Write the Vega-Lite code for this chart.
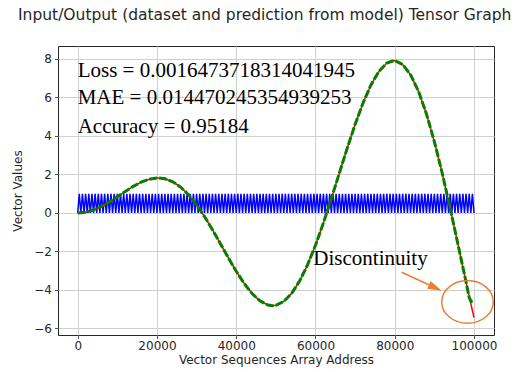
{
  "$schema": "https://vega.github.io/schema/vega-lite/v6.json",
  "width": 436,
  "height": 289,
  "autosize": {"type": "none"},
  "padding": {"left": 58, "top": 46, "right": 23, "bottom": 37},
  "background": "white",
  "title": {"text": "Input/Output (dataset and prediction from model) Tensor Graph", "anchor": "start", "frame": "group", "dx": -40, "offset": 11, "baseline": "alphabetic", "font": "DejaVu Sans", "fontSize": 15.5, "fontWeight": "normal", "color": "#262626"},
  "config": {
    "view": {"stroke": "#262626", "strokeWidth": 1},
    "axis": {"labelFont": "DejaVu Sans", "labelFontSize": 12, "labelColor": "#262626", "titleFont": "DejaVu Sans", "titleFontSize": 12, "titleFontWeight": "normal", "titleColor": "#262626", "tickColor": "#262626", "tickSize": 3.5, "tickWidth": 0.8, "domain": false, "grid": true, "gridColor": "#cfcfcf", "gridWidth": 1, "labelFlush": false, "labelOverlap": false},
    "axisX": {"labelPadding": 2, "titlePadding": 3},
    "axisY": {"labelPadding": 3, "titlePadding": 9}
  },
  "datasets": {
    "input": [
      {"x":0,"y":0},{"x":400,"y":1},{"x":800,"y":0},{"x":1200,"y":1},{"x":1600,"y":0},{"x":2000,"y":1},{"x":2400,"y":0},{"x":2800,"y":1},{"x":3200,"y":0},{"x":3600,"y":1},{"x":4000,"y":0},{"x":4400,"y":1},{"x":4800,"y":0},{"x":5200,"y":1},{"x":5600,"y":0},{"x":6000,"y":1},{"x":6400,"y":0},{"x":6800,"y":1},{"x":7200,"y":0},{"x":7600,"y":1},
      {"x":8000,"y":0},{"x":8400,"y":1},{"x":8800,"y":0},{"x":9200,"y":1},{"x":9600,"y":0},{"x":10000,"y":1},{"x":10400,"y":0},{"x":10800,"y":1},{"x":11200,"y":0},{"x":11600,"y":1},{"x":12000,"y":0},{"x":12400,"y":1},{"x":12800,"y":0},{"x":13200,"y":1},{"x":13600,"y":0},{"x":14000,"y":1},{"x":14400,"y":0},{"x":14800,"y":1},{"x":15200,"y":0},{"x":15600,"y":1},
      {"x":16000,"y":0},{"x":16400,"y":1},{"x":16800,"y":0},{"x":17200,"y":1},{"x":17600,"y":0},{"x":18000,"y":1},{"x":18400,"y":0},{"x":18800,"y":1},{"x":19200,"y":0},{"x":19600,"y":1},{"x":20000,"y":0},{"x":20400,"y":1},{"x":20800,"y":0},{"x":21200,"y":1},{"x":21600,"y":0},{"x":22000,"y":1},{"x":22400,"y":0},{"x":22800,"y":1},{"x":23200,"y":0},{"x":23600,"y":1},
      {"x":24000,"y":0},{"x":24400,"y":1},{"x":24800,"y":0},{"x":25200,"y":1},{"x":25600,"y":0},{"x":26000,"y":1},{"x":26400,"y":0},{"x":26800,"y":1},{"x":27200,"y":0},{"x":27600,"y":1},{"x":28000,"y":0},{"x":28400,"y":1},{"x":28800,"y":0},{"x":29200,"y":1},{"x":29600,"y":0},{"x":30000,"y":1},{"x":30400,"y":0},{"x":30800,"y":1},{"x":31200,"y":0},{"x":31600,"y":1},
      {"x":32000,"y":0},{"x":32400,"y":1},{"x":32800,"y":0},{"x":33200,"y":1},{"x":33600,"y":0},{"x":34000,"y":1},{"x":34400,"y":0},{"x":34800,"y":1},{"x":35200,"y":0},{"x":35600,"y":1},{"x":36000,"y":0},{"x":36400,"y":1},{"x":36800,"y":0},{"x":37200,"y":1},{"x":37600,"y":0},{"x":38000,"y":1},{"x":38400,"y":0},{"x":38800,"y":1},{"x":39200,"y":0},{"x":39600,"y":1},
      {"x":40000,"y":0},{"x":40400,"y":1},{"x":40800,"y":0},{"x":41200,"y":1},{"x":41600,"y":0},{"x":42000,"y":1},{"x":42400,"y":0},{"x":42800,"y":1},{"x":43200,"y":0},{"x":43600,"y":1},{"x":44000,"y":0},{"x":44400,"y":1},{"x":44800,"y":0},{"x":45200,"y":1},{"x":45600,"y":0},{"x":46000,"y":1},{"x":46400,"y":0},{"x":46800,"y":1},{"x":47200,"y":0},{"x":47600,"y":1},
      {"x":48000,"y":0},{"x":48400,"y":1},{"x":48800,"y":0},{"x":49200,"y":1},{"x":49600,"y":0},{"x":50000,"y":1},{"x":50400,"y":0},{"x":50800,"y":1},{"x":51200,"y":0},{"x":51600,"y":1},{"x":52000,"y":0},{"x":52400,"y":1},{"x":52800,"y":0},{"x":53200,"y":1},{"x":53600,"y":0},{"x":54000,"y":1},{"x":54400,"y":0},{"x":54800,"y":1},{"x":55200,"y":0},{"x":55600,"y":1},
      {"x":56000,"y":0},{"x":56400,"y":1},{"x":56800,"y":0},{"x":57200,"y":1},{"x":57600,"y":0},{"x":58000,"y":1},{"x":58400,"y":0},{"x":58800,"y":1},{"x":59200,"y":0},{"x":59600,"y":1},{"x":60000,"y":0},{"x":60400,"y":1},{"x":60800,"y":0},{"x":61200,"y":1},{"x":61600,"y":0},{"x":62000,"y":1},{"x":62400,"y":0},{"x":62800,"y":1},{"x":63200,"y":0},{"x":63600,"y":1},
      {"x":64000,"y":0},{"x":64400,"y":1},{"x":64800,"y":0},{"x":65200,"y":1},{"x":65600,"y":0},{"x":66000,"y":1},{"x":66400,"y":0},{"x":66800,"y":1},{"x":67200,"y":0},{"x":67600,"y":1},{"x":68000,"y":0},{"x":68400,"y":1},{"x":68800,"y":0},{"x":69200,"y":1},{"x":69600,"y":0},{"x":70000,"y":1},{"x":70400,"y":0},{"x":70800,"y":1},{"x":71200,"y":0},{"x":71600,"y":1},
      {"x":72000,"y":0},{"x":72400,"y":1},{"x":72800,"y":0},{"x":73200,"y":1},{"x":73600,"y":0},{"x":74000,"y":1},{"x":74400,"y":0},{"x":74800,"y":1},{"x":75200,"y":0},{"x":75600,"y":1},{"x":76000,"y":0},{"x":76400,"y":1},{"x":76800,"y":0},{"x":77200,"y":1},{"x":77600,"y":0},{"x":78000,"y":1},{"x":78400,"y":0},{"x":78800,"y":1},{"x":79200,"y":0},{"x":79600,"y":1},
      {"x":80000,"y":0},{"x":80400,"y":1},{"x":80800,"y":0},{"x":81200,"y":1},{"x":81600,"y":0},{"x":82000,"y":1},{"x":82400,"y":0},{"x":82800,"y":1},{"x":83200,"y":0},{"x":83600,"y":1},{"x":84000,"y":0},{"x":84400,"y":1},{"x":84800,"y":0},{"x":85200,"y":1},{"x":85600,"y":0},{"x":86000,"y":1},{"x":86400,"y":0},{"x":86800,"y":1},{"x":87200,"y":0},{"x":87600,"y":1},
      {"x":88000,"y":0},{"x":88400,"y":1},{"x":88800,"y":0},{"x":89200,"y":1},{"x":89600,"y":0},{"x":90000,"y":1},{"x":90400,"y":0},{"x":90800,"y":1},{"x":91200,"y":0},{"x":91600,"y":1},{"x":92000,"y":0},{"x":92400,"y":1},{"x":92800,"y":0},{"x":93200,"y":1},{"x":93600,"y":0},{"x":94000,"y":1},{"x":94400,"y":0},{"x":94800,"y":1},{"x":95200,"y":0},{"x":95600,"y":1},
      {"x":96000,"y":0},{"x":96400,"y":1},{"x":96800,"y":0},{"x":97200,"y":1},{"x":97600,"y":0},{"x":98000,"y":1},{"x":98400,"y":0},{"x":98800,"y":1},{"x":99200,"y":0},{"x":99600,"y":1},{"x":100000,"y":0}
    ],
    "dataset": [
      {"x":0,"y":0},{"x":2000,"y":0.0397},{"x":4000,"y":0.1558},{"x":6000,"y":0.3388},{"x":8000,"y":0.5739},{"x":10000,"y":0.8415},{"x":12000,"y":1.1184},{"x":14000,"y":1.3796},{"x":16000,"y":1.5993},{"x":18000,"y":1.7529},{"x":20000,"y":1.8186},{"x":20290,"y":1.8197},{"x":22000,"y":1.7787},{"x":24000,"y":1.6211},{"x":26000,"y":1.3403},{"x":28000,"y":0.938},{"x":30000,"y":0.4234},{"x":32000,"y":-0.1868},{"x":34000,"y":-0.8688},{"x":36000,"y":-1.5931},{"x":38000,"y":-2.3251},{"x":40000,"y":-3.0272},{"x":42000,"y":-3.6606},{"x":44000,"y":-4.187},{"x":46000,"y":-4.571},{"x":48000,"y":-4.7816},{"x":49130,"y":-4.8145},{"x":50000,"y":-4.7946},{"x":52000,"y":-4.5939},{"x":54000,"y":-4.1729},{"x":56000,"y":-3.5351},{"x":58000,"y":-2.6947},{"x":60000,"y":-1.6765},{"x":62000,"y":-0.5152},{"x":64000,"y":0.7459},{"x":66000,"y":2.0562},{"x":68000,"y":3.3599},{"x":70000,"y":4.5989},{"x":72000,"y":5.7144},{"x":74000,"y":6.6504},{"x":76000,"y":7.3562},{"x":78000,"y":7.7886},{"x":79790,"y":7.9167},{"x":80000,"y":7.9149},{"x":82000,"y":7.714},{"x":84000,"y":7.1786},{"x":86000,"y":6.3158},{"x":88000,"y":5.1472},{"x":90000,"y":3.7091},{"x":92000,"y":2.0506},{"x":94000,"y":0.2329},{"x":96000,"y":-1.6736},{"x":98000,"y":-3.5915},{"x":99000,"y":-4.529},{"x":100000,"y":-5.4402}
    ],
    "prediction": [
      {"x":0,"y":0},{"x":2000,"y":0.0397},{"x":4000,"y":0.1558},{"x":6000,"y":0.3388},{"x":8000,"y":0.5739},{"x":10000,"y":0.8415},{"x":12000,"y":1.1184},{"x":14000,"y":1.3796},{"x":16000,"y":1.5993},{"x":18000,"y":1.7529},{"x":20000,"y":1.8186},{"x":20290,"y":1.8197},{"x":22000,"y":1.7787},{"x":24000,"y":1.6211},{"x":26000,"y":1.3403},{"x":28000,"y":0.938},{"x":30000,"y":0.4234},{"x":32000,"y":-0.1868},{"x":34000,"y":-0.8688},{"x":36000,"y":-1.5931},{"x":38000,"y":-2.3251},{"x":40000,"y":-3.0272},{"x":42000,"y":-3.6606},{"x":44000,"y":-4.187},{"x":46000,"y":-4.571},{"x":48000,"y":-4.7816},{"x":49130,"y":-4.8145},{"x":50000,"y":-4.7946},{"x":52000,"y":-4.5939},{"x":54000,"y":-4.1729},{"x":56000,"y":-3.5351},{"x":58000,"y":-2.6947},{"x":60000,"y":-1.6765},{"x":62000,"y":-0.5152},{"x":64000,"y":0.7459},{"x":66000,"y":2.0562},{"x":68000,"y":3.3599},{"x":70000,"y":4.5989},{"x":72000,"y":5.7144},{"x":74000,"y":6.6504},{"x":76000,"y":7.3562},{"x":78000,"y":7.7886},{"x":79790,"y":7.9167},{"x":80000,"y":7.9149},{"x":82000,"y":7.714},{"x":84000,"y":7.1786},{"x":86000,"y":6.3158},{"x":88000,"y":5.1472},{"x":90000,"y":3.7091},{"x":92000,"y":2.0506},{"x":94000,"y":0.2329},{"x":96000,"y":-1.6736},{"x":98000,"y":-3.5915},{"x":98800,"y":-4.4},{"x":99300,"y":-4.6},{"x":99700,"y":-4.62}
    ],
    "metrics": [
      {"x":0,"y":7.05,"label":"Loss = 0.0016473718314041945"},
      {"x":0,"y":5.647,"label":"MAE = 0.014470245354939253"},
      {"x":0,"y":4.156,"label":"Accuracy = 0.95184"},
      {"x":59450,"y":-2.71,"label":"Discontinuity"}
    ],
    "circle": [{"x":98360,"y":-4.62}],
    "arrow": [{"x":81756,"y":-3.08},{"x":90235,"y":-3.886}],
    "arrowhead": [{"x":90235,"y":-3.886}]
  },
  "encoding": {
    "x": {"field": "x", "type": "quantitative", "scale": {"domain": [-4971, 105047], "nice": false, "zero": false}, "axis": {"title": "Vector Sequences Array Address", "values": [0, 20000, 40000, 60000, 80000, 100000], "format": "d"}},
    "y": {"field": "y", "type": "quantitative", "scale": {"domain": [-6.34, 8.675], "nice": false, "zero": false}, "axis": {"title": "Vector Values", "values": [-6, -4, -2, 0, 2, 4, 6, 8], "format": "d"}}
  },
  "layer": [
    {"data": {"name": "input"}, "mark": {"type": "line", "color": "#0000ff", "strokeWidth": 1.5}},
    {"data": {"name": "dataset"}, "mark": {"type": "line", "color": "#ff0000", "strokeWidth": 1.5}},
    {"data": {"name": "prediction"}, "mark": {"type": "line", "color": "#008000", "strokeWidth": 3, "strokeDash": [8, 2]}},
    {"data": {"name": "metrics"}, "mark": {"type": "text", "align": "left", "baseline": "alphabetic", "font": "Liberation Serif", "fontSize": 21, "color": "#000000"}, "encoding": {"text": {"field": "label"}}},
    {"data": {"name": "circle"}, "mark": {"type": "point", "shape": "M 1 0 C 1 0.456 0.552 0.826 0 0.826 C -0.552 0.826 -1 0.456 -1 0 C -1 -0.456 -0.552 -0.826 0 -0.826 C 0.552 -0.826 1 -0.456 1 0 Z", "size": 2663, "filled": false, "stroke": "#ED7D31", "strokeWidth": 1.5, "opacity": 1}},
    {"data": {"name": "arrow"}, "mark": {"type": "line", "color": "#ED7D31", "strokeWidth": 1.5}},
    {"data": {"name": "arrowhead"}, "mark": {"type": "point", "shape": "M -1 -0.6 L 1 0 L -1 0.6 Z", "size": 196, "filled": true, "color": "#ED7D31", "angle": 24.7, "opacity": 1}}
  ]
}
